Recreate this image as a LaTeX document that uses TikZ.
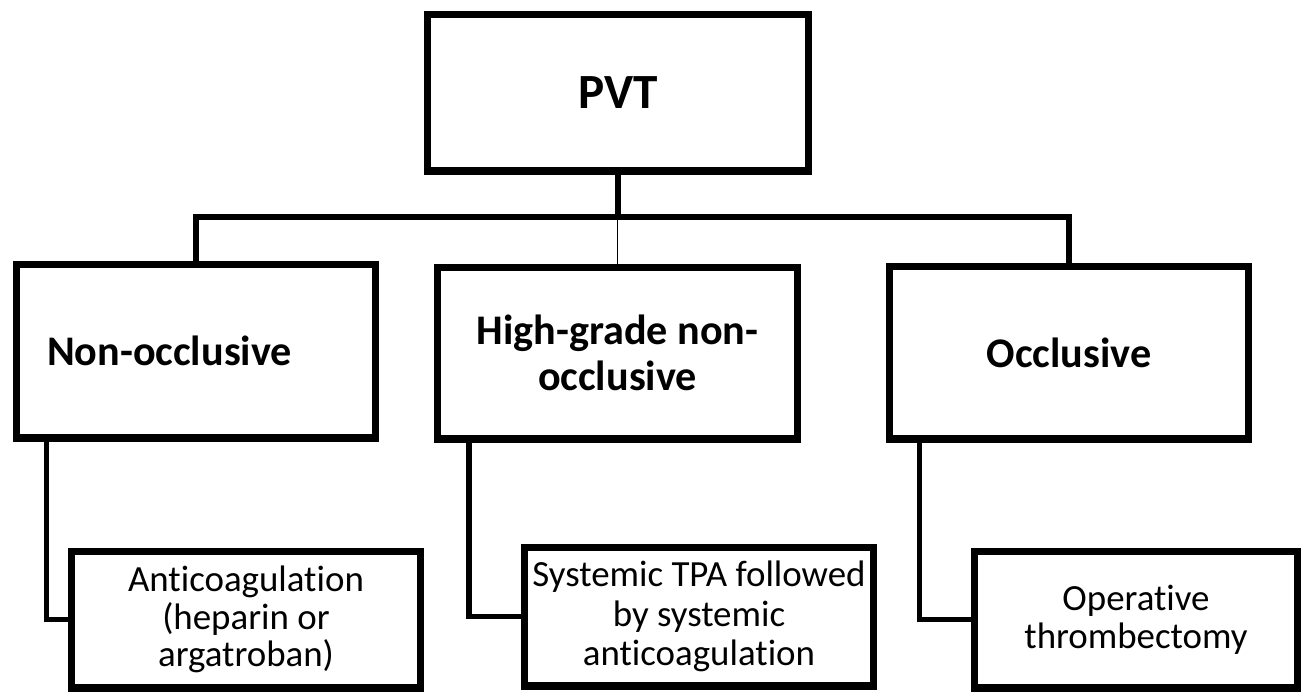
\documentclass[tikz,border=0pt]{standalone}
\usepackage{fontspec}
\setmainfont{Carlito}[Ligatures=NoCommon]
\usetikzlibrary{calc}

\tikzset{
  box/.style={draw, line width=4pt, align=center, inner sep=0pt},
  catbox/.style={box, minimum width=7.2cm, minimum height=3.46cm,
    font=\fontsize{24}{26}\selectfont\bfseries},
  treatbox/.style={box, minimum width=7.0cm, minimum height=2.74cm,
    font=\fontsize{21}{21.5}\selectfont},
  conn/.style={line width=3pt},
}

\begin{document}
\begin{tikzpicture}[x=0.02cm, y=-0.02cm]
        \useasboundingbox (0,0) rectangle (1305,694);
        \coordinate (bar) at (618,217);
        % top
        \node[box, minimum width=7.64cm, minimum height=3.14cm,
              font=\fontsize{28}{32}\selectfont\bfseries] (pvt) at (618,92.5) {PVT};
        % categories
        \node[catbox, minimum height=3.48cm, text width=5.96cm, align=left,
              inner xsep=0.62cm] (nonocc) at (196,351) {Non-occlusive};
        \node[catbox, minimum height=3.44cm] (highgrade) at (617.5,353)
              {High-grade non-\\occlusive};
        \node[catbox] (occ) at (1069,352.5) {Occlusive};
        % treatments
        \node[treatbox] (anticoag) at (246,619.5)
              {Anticoagulation\\(heparin or\\argatroban)};
        \node[treatbox, minimum height=2.78cm,
              font=\fontsize{21}{22.5}\selectfont] (tpa) at (699,616.5)
              {Systemic TPA followed\\by systemic\\anticoagulation};
        \node[treatbox, minimum width=6.48cm] (thromb) at (1136,619.5)
              {Operative\\thrombectomy};
        % connectors
        \draw[conn] (pvt.south) -- (pvt.south |- bar);
        \draw[conn] (nonocc.north) -- (nonocc.north |- bar) -| (occ.north);
        \draw[line width=0.6pt] (highgrade.north) -- (highgrade.north |- bar);
        \draw[conn] ($(nonocc.south west)+(34,0)$) |- (anticoag.west);
        \draw[conn] ($(highgrade.south west)+(35,0)$) |- (tpa.west);
        \draw[conn] ($(occ.south west)+(34,0)$) |- (thromb.west);
      \end{tikzpicture}
\end{document}
